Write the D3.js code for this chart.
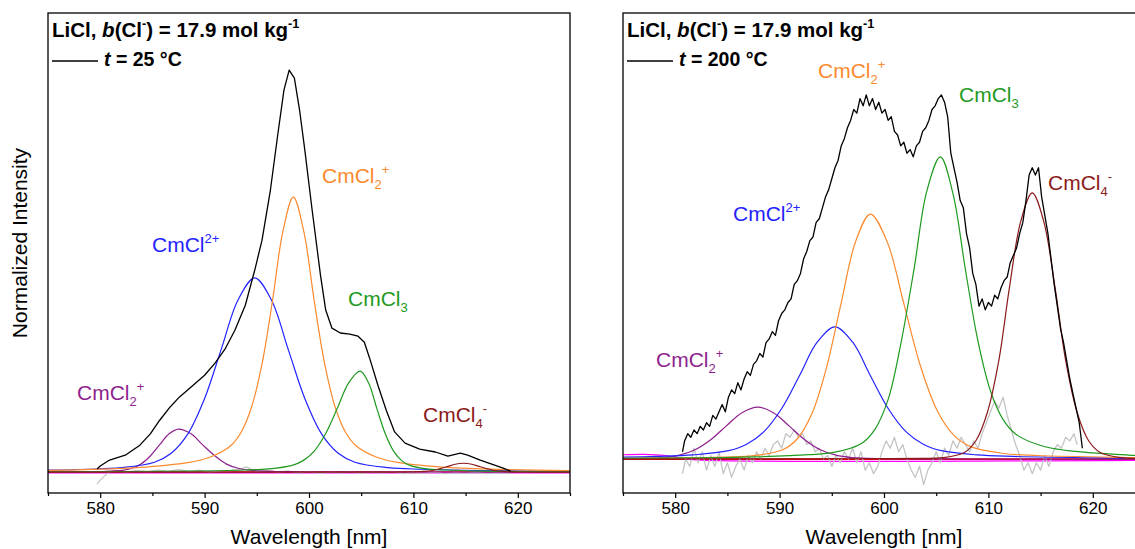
<!DOCTYPE html>
<html lang="en">
<head>
<meta charset="utf-8">
<title>Cm(III) emission spectra, LiCl</title>
<script src="https://d3js.org/d3.v7.min.js"></script>
<style>
  body { margin: 0; background: #fff; }
  svg { display: block; font-family: Arial, "Liberation Sans", sans-serif; }
</style>
</head>
<body>
<script>
// ---- data ----
const xTicks = [580, 590, 600, 610, 620];
const xMinor = [575, 585, 595, 605, 615, 625];
const baseWl = [575, 625];
const baseVal = [0, 0];

// left panel, t = 25 °C
const leftBlackWl = [579.7, 580.0, 580.9, 582.4, 583.8, 584.8, 585.7, 586.7, 587.6, 588.9, 590.0, 591.0, 592.0, 592.9, 593.9, 594.8, 595.5, 596.3, 597.0, 597.6, 598.1, 598.6, 599.1, 599.6, 600.3, 601.1, 601.6, 602.2, 603.0, 603.9, 604.7, 605.3, 605.8, 606.6, 607.4, 608.2, 609.2, 610.6, 612.1, 613.3, 614.5, 615.2, 616.4, 617.5, 618.6, 619.3];
const leftBlack = [0.0075, 0.015, 0.030, 0.042, 0.067, 0.095, 0.129, 0.162, 0.187, 0.216, 0.241, 0.271, 0.308, 0.353, 0.415, 0.502, 0.577, 0.701, 0.838, 0.950, 1.0, 0.980, 0.900, 0.801, 0.652, 0.490, 0.403, 0.358, 0.346, 0.343, 0.338, 0.323, 0.284, 0.216, 0.154, 0.100, 0.072, 0.057, 0.050, 0.040, 0.047, 0.042, 0.030, 0.020, 0.010, 0.0025];
const leftResidWl = [579.7, 580.0, 580.4, 580.8, 581.5, 582.5, 583.5, 584.5, 585.5, 586.5, 587.5, 588.5, 589.5, 590.5, 591.5, 592.5, 593.5, 594.0, 594.5, 595.0, 596, 597, 598, 599, 600, 601, 602, 603, 604, 605, 606, 607, 608, 609, 610, 611, 612, 613, 614, 615, 616, 617, 618, 619.3];
const leftResid = [-0.03, -0.02, -0.01, 0.0, 0.004, 0.0, 0.004, 0.001, 0.005, 0.002, 0.006, 0.002, 0.005, 0.0, 0.003, 0.004, 0.008, 0.013, 0.006, 0.002, 0.004, 0.0, 0.003, -0.002, 0.002, -0.003, 0.0, -0.002, 0.001, -0.003, 0.0, -0.002, 0.001, -0.004, -0.001, -0.003, 0.0, -0.004, -0.002, -0.003, -0.001, -0.004, -0.002, -0.003];
const leftMagentaWl = [575, 625];
const leftMagenta = [-0.002, -0.002];

const leftPurpleWl = [575, 578.5, 580.3, 582.1, 583.0, 583.9, 584.8, 585.7, 586.6, 587.5, 588.7, 589.8, 591.0, 592.1, 593.3, 594.5, 596.8, 599.1, 604.9, 625];
const leftPurple = [0.0005, 0.0009, 0.0015, 0.0041, 0.0089, 0.0199, 0.0401, 0.0682, 0.0952, 0.107, 0.0952, 0.0682, 0.0401, 0.0199, 0.0089, 0.0041, 0.0015, 0.0009, 0.0004, 0.0001];
const leftBlueWl = [575, 578.8, 582.0, 585.2, 586.8, 588.4, 590.0, 591.6, 593.2, 594.8, 596.4, 598.0, 599.6, 601.2, 602.8, 604.4, 607.6, 610.8, 618.8, 625];
const leftBlue = [0.0047, 0.0071, 0.0111, 0.0246, 0.0469, 0.0952, 0.183, 0.306, 0.428, 0.483, 0.428, 0.306, 0.183, 0.0952, 0.0469, 0.0246, 0.0111, 0.0071, 0.0033, 0.0021];
const leftOrangeWl = [575, 583.5, 588.5, 590.5, 592.5, 593.5, 594.5, 595.5, 596.5, 597.5, 598.5, 599.5, 600.5, 601.5, 602.5, 603.5, 604.5, 606.5, 608.5, 613.5, 625];
const leftOrange = [0.0044, 0.0111, 0.0241, 0.0369, 0.0657, 0.0992, 0.162, 0.269, 0.426, 0.599, 0.684, 0.599, 0.426, 0.269, 0.162, 0.0992, 0.0657, 0.0369, 0.0241, 0.0111, 0.0037];
const leftGreenWl = [575, 577.4, 588.4, 593.9, 596.1, 598.3, 599.4, 600.5, 601.6, 602.7, 603.8, 604.9, 605.7, 606.5, 607.3, 608.1, 608.9, 609.7, 611.3, 612.9, 616.9, 625];
const leftGreen = [0.0008, 0.0009, 0.0024, 0.0052, 0.0080, 0.0161, 0.0279, 0.0522, 0.0961, 0.158, 0.222, 0.251, 0.222, 0.158, 0.0961, 0.0522, 0.0279, 0.0161, 0.0080, 0.0052, 0.0024, 0.0009];
const leftBrownWl = [575, 603.4, 607.2, 608.7, 610.2, 611.0, 611.8, 612.5, 613.3, 614.0, 614.8, 615.6, 616.3, 617.1, 617.8, 618.6, 619.4, 620.9, 622.4, 625];
const leftBrown = [0, 0.0001, 0.0001, 0.0002, 0.0007, 0.0017, 0.0040, 0.0082, 0.0141, 0.0196, 0.022, 0.0196, 0.0141, 0.0082, 0.0040, 0.0017, 0.0007, 0.0002, 0.0001, 0];

// right panel, t = 200 °C
const rightBlackWl = [580.7, 580.9, 581.2, 581.5, 581.8, 582.1, 582.4, 582.7, 583.0, 583.3, 583.6, 583.9, 584.2, 584.5, 584.8, 585.1, 585.4, 585.7, 586.0, 586.3, 586.6, 586.9, 587.2, 587.5, 587.8, 588.1, 588.4, 588.7, 589.0, 589.3, 589.6, 589.9, 590.2, 590.5, 590.8, 591.1, 591.4, 591.7, 592.0, 592.3, 592.6, 592.9, 593.2, 593.5, 593.8, 594.1, 594.4, 594.7, 595.0, 595.3, 595.6, 595.9, 596.2, 596.5, 596.8, 597.1, 597.4, 597.7, 598.0, 598.3, 598.6, 598.9, 599.2, 599.5, 599.8, 600.1, 600.4, 600.7, 601.0, 601.3, 601.6, 601.9, 602.2, 602.5, 602.8, 603.1, 603.4, 603.7, 604.0, 604.3, 604.6, 604.9, 605.2, 605.5, 605.8, 606.1, 606.4, 606.7, 607.0, 607.3, 607.6, 607.9, 608.2, 608.5, 608.8, 609.1, 609.4, 609.7, 610.0, 610.3, 610.6, 610.9, 611.2, 611.5, 611.8, 612.1, 612.4, 612.7, 613.0, 613.3, 613.6, 613.9, 614.2, 614.5, 614.8, 615.1, 615.4, 615.7, 616.0, 616.3, 616.6, 616.9, 617.2, 617.5, 617.8, 618.1, 618.4, 618.7, 619.0];
const rightBlack = [0.02, 0.05, 0.07, 0.06, 0.08, 0.07, 0.09, 0.08, 0.10, 0.09, 0.12, 0.11, 0.13, 0.15, 0.13, 0.17, 0.19, 0.18, 0.21, 0.19, 0.22, 0.24, 0.23, 0.26, 0.27, 0.29, 0.28, 0.32, 0.33, 0.35, 0.34, 0.38, 0.40, 0.41, 0.43, 0.44, 0.48, 0.49, 0.51, 0.55, 0.57, 0.60, 0.61, 0.65, 0.66, 0.69, 0.72, 0.74, 0.77, 0.80, 0.82, 0.86, 0.88, 0.91, 0.93, 0.96, 0.95, 0.99, 0.97, 1.0, 0.97, 0.99, 0.96, 0.98, 0.95, 0.96, 0.93, 0.94, 0.90, 0.89, 0.86, 0.87, 0.84, 0.85, 0.83, 0.86, 0.87, 0.90, 0.91, 0.93, 0.96, 0.97, 0.99, 1.0, 0.98, 0.94, 0.84, 0.80, 0.76, 0.71, 0.69, 0.62, 0.58, 0.51, 0.48, 0.42, 0.44, 0.41, 0.43, 0.42, 0.45, 0.44, 0.47, 0.49, 0.50, 0.54, 0.56, 0.58, 0.62, 0.65, 0.71, 0.78, 0.80, 0.78, 0.80, 0.72, 0.67, 0.62, 0.55, 0.48, 0.42, 0.36, 0.32, 0.27, 0.22, 0.18, 0.14, 0.10, 0.03];
const rightResidWl = [580.7, 581.0, 581.4, 581.8, 582.2, 582.6, 583.0, 583.4, 583.8, 584.2, 584.6, 585.0, 585.4, 585.8, 586.2, 586.6, 587.0, 587.4, 587.8, 588.2, 588.6, 589.0, 589.4, 589.8, 590.2, 590.6, 591.0, 591.4, 591.8, 592.2, 592.6, 593.0, 593.4, 593.8, 594.2, 594.6, 595.0, 595.4, 595.8, 596.2, 596.6, 597.0, 597.4, 597.8, 598.2, 598.6, 599.0, 599.4, 599.8, 600.2, 600.6, 601.0, 601.4, 601.8, 602.2, 602.6, 603.0, 603.4, 603.8, 604.2, 604.6, 605.0, 605.4, 605.8, 606.2, 606.6, 607.0, 607.4, 607.8, 608.2, 608.6, 609.0, 609.4, 609.8, 610.2, 610.6, 611.0, 611.4, 611.8, 612.2, 612.6, 613.0, 613.4, 613.8, 614.2, 614.6, 615.0, 615.4, 615.8, 616.2, 616.6, 617.0, 617.4, 617.8, 618.2, 618.5];
const rightResid = [-0.04, 0.0, -0.02, 0.03, -0.01, 0.02, -0.03, 0.01, -0.02, 0.02, -0.04, -0.01, -0.05, -0.02, 0.0, -0.03, 0.01, -0.01, 0.02, 0.0, 0.03, 0.01, 0.04, 0.05, 0.03, 0.07, 0.06, 0.08, 0.06, 0.07, 0.04, 0.05, 0.02, 0.03, 0.0, 0.01, -0.02, 0.01, -0.01, 0.02, 0.0, 0.03, -0.01, 0.02, -0.03, -0.01, -0.04, -0.02, 0.02, 0.05, 0.03, 0.06, 0.02, 0.04, 0.0, -0.03, -0.05, -0.02, -0.07, -0.03, -0.01, 0.02, -0.01, 0.03, 0.01, 0.05, 0.03, 0.06, 0.04, 0.02, 0.05, 0.03, 0.07, 0.10, 0.13, 0.16, 0.14, 0.17, 0.12, 0.08, 0.04, 0.01, -0.03, -0.01, -0.04, -0.01, -0.03, 0.01, -0.02, 0.02, 0.04, 0.03, 0.06, 0.05, 0.07, 0.04];
const rightMagentaWl = [575, 577, 579, 580.5, 582, 625];
const rightMagenta = [0.012, 0.013, 0.010, 0.003, -0.002, -0.003];

const rightPurpleWl = [575, 575.9, 578.9, 580.4, 581.9, 583.4, 584.9, 586.4, 587.9, 589.4, 590.9, 592.4, 593.9, 595.4, 596.9, 599.9, 602.9, 610.4, 625];
const rightPurple = [0.0011, 0.0014, 0.0044, 0.0109, 0.0257, 0.0533, 0.0914, 0.1276, 0.143, 0.1276, 0.0914, 0.0533, 0.0257, 0.0109, 0.0044, 0.0014, 0.0008, 0.0004, 0.0001];
const rightBlueWl = [575, 578.3, 581.7, 585.1, 586.8, 588.5, 590.2, 591.9, 593.6, 595.3, 597.0, 598.7, 600.4, 602.1, 603.8, 605.5, 608.9, 612.3, 620.8, 625];
const rightBlue = [0.0053, 0.0075, 0.0116, 0.0232, 0.0403, 0.0755, 0.139, 0.229, 0.321, 0.363, 0.321, 0.229, 0.139, 0.0755, 0.0403, 0.0232, 0.0116, 0.0075, 0.0034, 0.0025];
const rightOrangeWl = [575, 577.7, 584.7, 587.5, 590.3, 591.7, 593.1, 594.5, 595.9, 597.3, 598.7, 600.3, 601.9, 603.5, 605.1, 606.7, 608.3, 611.5, 614.7, 622.7, 625];
const rightOrange = [0.0020, 0.0027, 0.0059, 0.0094, 0.0256, 0.0559, 0.125, 0.252, 0.429, 0.599, 0.673, 0.597, 0.427, 0.255, 0.133, 0.0653, 0.0343, 0.0155, 0.0099, 0.0046, 0.0038];
const rightGreenWl = [575, 586.5, 592.8, 595.3, 597.8, 599.1, 600.4, 601.6, 602.9, 604.1, 605.4, 606.6, 607.8, 609.0, 610.2, 611.4, 612.6, 615.0, 617.4, 623.4, 625];
const rightGreen = [0.0022, 0.0056, 0.0122, 0.0191, 0.0423, 0.0805, 0.164, 0.315, 0.526, 0.736, 0.83, 0.730, 0.520, 0.324, 0.187, 0.109, 0.0689, 0.0374, 0.0241, 0.0112, 0.0095];
const rightBrownWl = [575, 598.0, 603.4, 605.6, 607.7, 608.8, 609.9, 611.0, 612.0, 613.1, 614.2, 615.3, 616.4, 617.4, 618.5, 619.6, 620.7, 622.8, 625];
const rightBrown = [0.0003, 0.0010, 0.0021, 0.0039, 0.0183, 0.0504, 0.128, 0.271, 0.468, 0.653, 0.731, 0.653, 0.468, 0.271, 0.128, 0.0504, 0.0183, 0.0039, 0.0021];

// ---- layout ----
const W = 1135, H = 549;
const col = {
  black: "#000000", gray: "#c4c4c4", red: "#e00000", magenta: "#ff00ff",
  purple: "#8e1f8e", blue: "#2323ff", orange: "#fb8a2e", green: "#1f9a1f", brown: "#8b1a1a"
};

const svg = d3.select("body").append("svg")
  .attr("width", W).attr("height", H);
svg.append("rect").attr("width", W).attr("height", H).attr("fill", "#fff");

function richText(sel, x, y, parts, size, color, weight) {
  const t = sel.append("text").attr("x", x).attr("y", y)
    .attr("font-size", size).attr("fill", color)
    .attr("font-weight", weight || "normal");
  let shift = 0;
  parts.forEach(function(p) {
    const kind = p[1] || "n";
    let target = 0, fs = size;
    if (kind === "sup") { target = -size * 0.42; fs = size * 0.62; }
    if (kind === "sub") { target = size * 0.28; fs = size * 0.62; }
    const ts = t.append("tspan").text(p[0])
      .attr("dy", target - shift).attr("font-size", fs);
    if (kind === "i") ts.attr("font-style", "italic");
    shift = target;
  });
  return t;
}

function drawPanel(cfg) {
  const x = d3.scaleLinear().domain([575, 625]).range([cfg.x0, cfg.x0 + 522]);
  const y = d3.scaleLinear().domain(cfg.yDomain).range([493, 13]);
  const g = svg.append("g");

  const clipId = "clip" + cfg.id;
  svg.append("clipPath").attr("id", clipId).append("rect")
    .attr("x", cfg.x0).attr("y", 13).attr("width", 522).attr("height", 480);

  const plot = g.append("g").attr("clip-path", "url(#" + clipId + ")");

  function addLine(wl, vals, color, width, curve) {
    const pts = wl.map(function(w, i) { return [w, vals[i]]; });
    plot.append("path").datum(pts)
      .attr("fill", "none").attr("stroke", color).attr("stroke-width", width)
      .attr("stroke-linejoin", "round")
      .attr("d", d3.line().x(function(d) { return x(d[0]); })
        .y(function(d) { return y(d[1]); }).curve(curve || d3.curveLinear));
  }
  const smooth = d3.curveCatmullRom.alpha(0.5);

  addLine(baseWl, baseVal, col.red, 1.6);
  addLine(cfg.magentaWl, cfg.magenta, col.magenta, 1.2, smooth);
  addLine(cfg.residWl, cfg.resid, col.gray, 1.3);
  addLine(cfg.purpleWl, cfg.purple, col.purple, 1.2, smooth);
  addLine(cfg.blueWl, cfg.blue, col.blue, 1.2, smooth);
  addLine(cfg.orangeWl, cfg.orange, col.orange, 1.2, smooth);
  addLine(cfg.greenWl, cfg.green, col.green, 1.2, smooth);
  addLine(cfg.brownWl, cfg.brown, col.brown, 1.2, smooth);
  addLine(cfg.blackWl, cfg.black, col.black, 1.3);

  // axes
  const ax = g.append("g").attr("transform", "translate(0,493)")
    .call(d3.axisBottom(x).tickValues(xTicks).tickSize(5).tickPadding(4));
  ax.select(".domain").remove();
  ax.selectAll("text").attr("font-size", 17).attr("font-family", "Arial, 'Liberation Sans', sans-serif").attr("fill", "#000");
  ax.selectAll("line").attr("stroke", "#000").attr("stroke-width", 1.2);
  const axm = g.append("g").attr("transform", "translate(0,493)")
    .call(d3.axisBottom(x).tickValues(xMinor).tickSize(3).tickFormat(""));
  axm.select(".domain").remove();
  axm.selectAll("line").attr("stroke", "#000").attr("stroke-width", 1.2);

  g.append("rect").attr("x", cfg.x0).attr("y", 13).attr("width", 522).attr("height", 480)
    .attr("fill", "none").attr("stroke", "#000").attr("stroke-width", 1.3);

  g.append("text").attr("x", x(600)).attr("y", 544).attr("text-anchor", "middle")
    .attr("font-size", 21).text("Wavelength [nm]");

  // legend block
  richText(g, cfg.x0 + 4, 37, [["LiCl, "], ["b", "i"], ["(Cl"], ["-", "sup"], [") = 17.9 mol kg"], ["-1", "sup"]], 20.5, "#000", "bold");
  g.append("line").attr("x1", cfg.x0 + 4).attr("x2", cfg.x0 + 50).attr("y1", 61).attr("y2", 61)
    .attr("stroke", "#000").attr("stroke-width", 1.3);
  richText(g, cfg.x0 + 56, 66, [["t", "i"], [" = " + cfg.temp + " \u00b0C"]], 19.5, "#000", "bold");

  // species labels
  cfg.labels.forEach(function(l) { richText(g, l.x, l.y, l.parts, 21, l.color); });
}

const cmcl2 = [["CmCl"], ["2", "sub"], ["+", "sup"]];
const cmcl = [["CmCl"], ["2+", "sup"]];
const cmcl3 = [["CmCl"], ["3", "sub"]];
const cmcl4 = [["CmCl"], ["4", "sub"], ["-", "sup"]];

drawPanel({
  id: "L", x0: 48, yDomain: [-0.052, 1.142], temp: "25",
  blackWl: leftBlackWl, black: leftBlack, residWl: leftResidWl, resid: leftResid,
  magentaWl: leftMagentaWl, magenta: leftMagenta,
  purpleWl: leftPurpleWl, purple: leftPurple, blueWl: leftBlueWl, blue: leftBlue,
  orangeWl: leftOrangeWl, orange: leftOrange, greenWl: leftGreenWl, green: leftGreen,
  brownWl: leftBrownWl, brown: leftBrown,
  labels: [
    { x: 77, y: 400, parts: cmcl2, color: col.purple },
    { x: 152, y: 252, parts: cmcl, color: col.blue },
    { x: 322, y: 183, parts: cmcl2, color: col.orange },
    { x: 348, y: 306, parts: cmcl3, color: col.green },
    { x: 423, y: 422, parts: cmcl4, color: col.brown }
  ]
});

drawPanel({
  id: "R", x0: 623, yDomain: [-0.093, 1.225], temp: "200",
  blackWl: rightBlackWl, black: rightBlack, residWl: rightResidWl, resid: rightResid,
  magentaWl: rightMagentaWl, magenta: rightMagenta,
  purpleWl: rightPurpleWl, purple: rightPurple, blueWl: rightBlueWl, blue: rightBlue,
  orangeWl: rightOrangeWl, orange: rightOrange, greenWl: rightGreenWl, green: rightGreen,
  brownWl: rightBrownWl, brown: rightBrown,
  labels: [
    { x: 818, y: 78, parts: cmcl2, color: col.orange },
    { x: 959, y: 102, parts: cmcl3, color: col.green },
    { x: 1048, y: 190, parts: cmcl4, color: col.brown },
    { x: 733, y: 221, parts: cmcl, color: col.blue },
    { x: 656, y: 367, parts: cmcl2, color: col.purple }
  ]
});

svg.append("text").attr("transform", "translate(27,243) rotate(-90)")
  .attr("text-anchor", "middle").attr("font-size", 21).text("Normalized Intensity");
</script>
</body>
</html>
